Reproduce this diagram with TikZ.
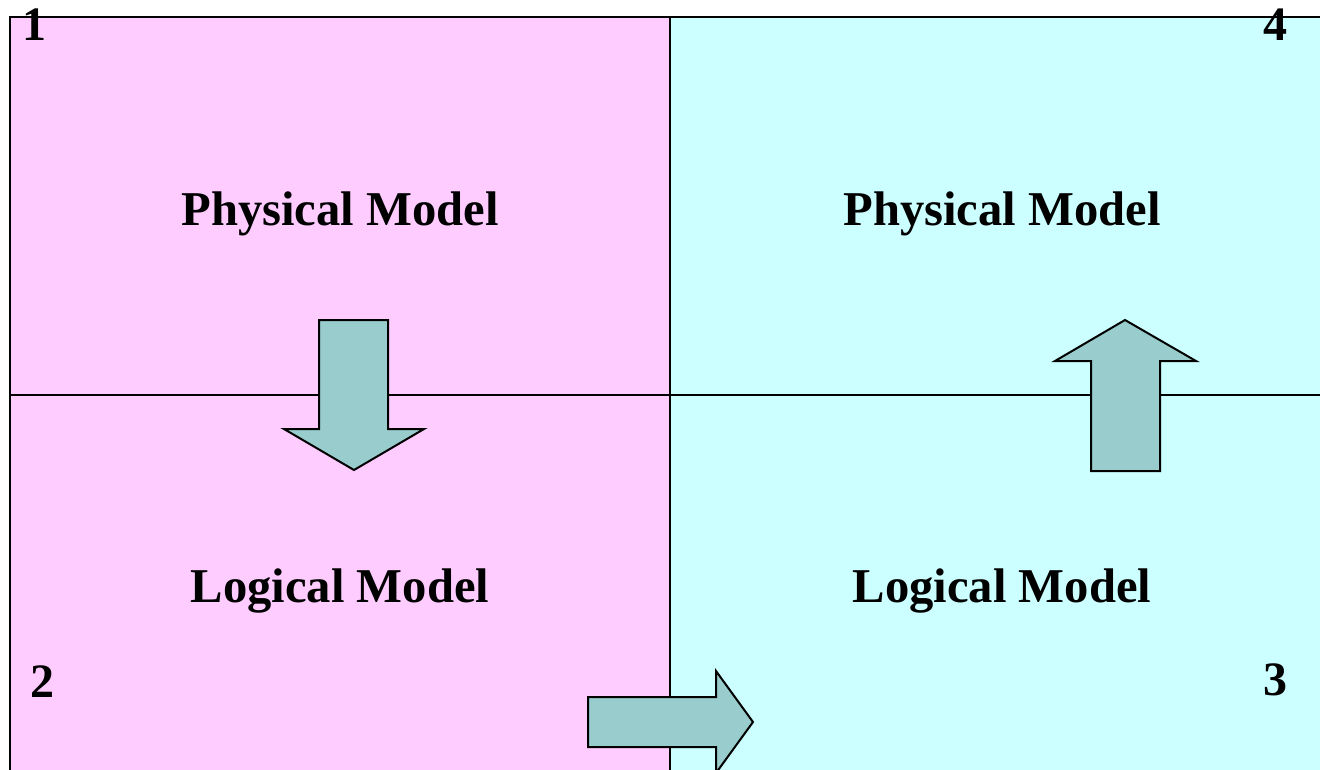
\documentclass[tikz,border=0pt]{standalone}
\usepackage{fontspec}
\setmainfont{Liberation Serif}
\definecolor{pinkbg}{HTML}{FFCCFF}
\definecolor{cyanbg}{HTML}{CCFFFF}
\definecolor{arrowfill}{HTML}{99CCCC}
\tikzset{
  lbl/.style={font=\bfseries\fontsize{48.6}{48.6}\selectfont, anchor=base, inner sep=0pt},
  num/.style={font=\bfseries\fontsize{48}{48}\selectfont, anchor=base, inner sep=0pt},
  frameline/.style={line width=2pt, black},
  bigarrow/.style={fill=arrowfill, draw=black, line width=2pt, line join=miter}
}
\begin{document}
\begin{tikzpicture}[x=1pt,y=-1pt]
\useasboundingbox (0,0) rectangle (1320,769);
\begin{scope}
\clip (0,0) rectangle (1320,769);
% panels
\fill[pinkbg] (10,17) rectangle (670,800);
\fill[cyanbg] (670,17) rectangle (1340,800);
% frame lines
\draw[frameline] (10,800) -- (10,17) -- (1340,17);
\draw[frameline] (10,395) -- (1340,395);
\draw[frameline] (670,17) -- (670,800);
% arrows
\draw[bigarrow] (319,320) -- (388,320) -- (388,429) -- (424,429) -- (354,470) -- (284,429) -- (319,429) -- cycle;
\draw[bigarrow] (1091,471) -- (1160,471) -- (1160,361) -- (1196,361) -- (1125,320) -- (1055,361) -- (1091,361) -- cycle;
\draw[bigarrow] (588,697) -- (716,697) -- (716,671) -- (753,722) -- (716,773) -- (716,747) -- (588,747) -- cycle;
\end{scope}
% labels
\node[lbl] (p1) at (340,225) {Physical Model};
\node[lbl] (p4) at (1002,225) {Physical Model};
\node[lbl] (l2) at (340,602) {Logical Model};
\node[lbl] (l3) at (1002,602) {Logical Model};
% numbers
\node[num] (n1) at (35,40) {1};
\node[num] (n4) at (1275,40) {4};
\node[num] (n2) at (42,697) {2};
\node[num] (n3) at (1275,695) {3};
\end{tikzpicture}
\end{document}
